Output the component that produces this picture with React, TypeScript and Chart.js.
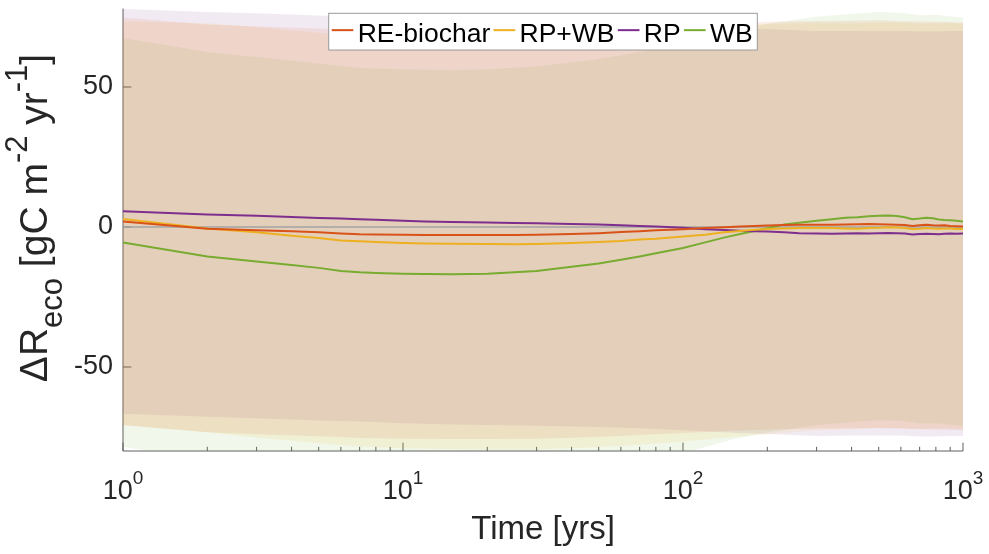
import { useEffect, useRef } from "react";
import { Chart, registerables } from "chart.js";

Chart.register(...registerables);

// ---- data ----------------------------------------------------------------
const years = [
  1, 2, 3, 4, 5, 6, 7, 8, 10, 12, 15, 20, 25, 30, 40, 50, 60, 70, 80, 100,
  120, 140, 160, 180, 200, 230, 260, 300, 340, 380, 420, 460, 500, 540, 580,
  620, 660, 700, 740, 780, 820, 860, 900, 950, 1000,
];

const reBiochar = [
  2.0, -0.6, -1.2, -1.5, -1.9, -2.3, -2.6, -2.7, -2.8, -2.9, -2.9, -2.9, -2.9,
  -2.8, -2.5, -2.2, -1.8, -1.5, -1.2, -0.8, -0.4, -0.1, 0.2, 0.4, 0.5, 0.7,
  0.8, 0.8, 0.8, 0.9, 1.0, 1.1, 1.0, 0.9, 0.8, 0.7, 0.4, 0.6, 0.8, 0.6, 0.5,
  0.6, 0.4, 0.3, 0.2,
];

const rpWb = [
  2.9, -0.5, -1.9, -3.1, -3.9, -4.8, -5.1, -5.4, -5.7, -5.9, -6.0, -6.1, -6.2,
  -6.1, -5.7, -5.4, -5.0, -4.5, -4.2, -3.4, -2.8, -1.9, -1.4, -1.0, -0.7,
  -0.5, -0.4, -0.4, -0.4, -0.5, -0.6, -0.4, -0.3, -0.1, -0.2, -0.4, -0.7,
  -0.6, -0.4, -0.5, -0.6, -0.5, -0.5, -0.7, -0.7,
];

const rp = [
  5.6, 4.5, 4.0, 3.6, 3.2, 3.0, 2.8, 2.6, 2.2, 2.0, 1.8, 1.6, 1.4, 1.3, 1.1,
  0.9, 0.6, 0.4, 0.2, -0.3, -0.8, -1.1, -1.3, -1.5, -1.6, -1.9, -2.2, -2.3,
  -2.4, -2.3, -2.2, -2.3, -2.2, -2.1, -2.2, -2.3, -2.7, -2.5, -2.4, -2.5,
  -2.6, -2.4, -2.3, -2.4, -2.3,
];

const wb = [
  -5.5, -10.5, -12.3, -13.6, -14.6, -15.7, -16.2, -16.4, -16.7, -16.8, -16.9,
  -16.7, -16.2, -15.7, -14.2, -13.0, -11.7, -10.5, -9.4, -7.5, -5.5, -3.8,
  -2.5, -1.4, -0.4, 0.9, 1.5, 2.25, 2.8, 3.3, 3.5, 3.8, 4.0, 4.1, 3.9, 3.5,
  2.8, 3.0, 3.3, 3.1, 2.7, 2.5, 2.4, 2.2, 2.0,
];

// uncertainty envelopes
const bandYears = [
  1, 2, 3, 5, 7, 10, 15, 20, 30, 50, 70, 100, 150, 200, 300, 400, 500, 600,
  700, 800, 900, 1000,
];
const reBiocharUpper = [
  74.8, 72.3, 71.6, 70.9, 70.2, 70.0, 69.9, 69.9, 70.0, 70.6, 71.3, 72.0,
  72.8, 73.3, 73.6, 73.7, 73.8, 73.5, 73.4, 73.3, 73.2, 73.0,
];
const reBiocharLower = [
  -70.8, -73.3, -74.0, -74.7, -75.4, -75.6, -75.7, -75.7, -75.6, -75.0, -74.3,
  -73.6, -72.8, -72.3, -72.0, -71.9, -71.8, -72.0, -72.2, -72.3, -72.4, -72.6,
];
const rpWbUpper = [
  73.5, 72.8, 71.4, 69.4, 68.2, 67.6, 67.3, 67.2, 67.2, 67.9, 68.8, 69.9,
  71.6, 72.6, 72.9, 72.8, 73.0, 73.0, 72.7, 72.8, 72.8, 72.6,
];
const rpWbLower = [
  -70.6, -73.3, -75.2, -77.2, -78.4, -79.0, -79.3, -79.4, -79.4, -78.7, -77.8,
  -76.7, -75.0, -74.0, -72.6, -72.2, -71.9, -71.9, -72.1, -72.0, -72.0, -72.2,
];
const rpUpper = [
  77.9, 76.8, 76.3, 75.5, 75.1, 74.5, 74.1, 73.9, 73.6, 73.2, 72.7, 72.0,
  71.1, 70.7, 70.0, 70.0, 70.1, 70.1, 69.8, 69.8, 70.0, 70.0,
];
const rpLower = [
  -66.7, -67.8, -68.3, -69.1, -69.5, -70.1, -70.5, -70.7, -71.0, -71.4, -71.9,
  -72.6, -73.5, -73.9, -74.6, -74.5, -74.5, -74.5, -74.8, -74.8, -74.6, -74.6,
];
const wbUpper = [
  67.5, 62.5, 60.7, 58.4, 56.8, 56.3, 56.1, 56.3, 57.3, 60.0, 62.5, 65.6,
  70.1, 72.6, 75.1, 76.2, 76.8, 76.5, 75.6, 75.8, 75.2, 74.8,
];
const wbLower = [
  -78.5, -83.5, -85.3, -87.6, -89.2, -89.7, -89.9, -89.7, -88.7, -86.0, -83.5,
  -80.8, -75.9, -73.4, -70.8, -69.6, -69.0, -69.2, -70.2, -70.1, -70.6, -71.0,
];

const seriesNames = ["RE-biochar", "RP+WB", "RP", "WB"];
const seriesColors = ["#D95319", "#EDB120", "#7E2F8E", "#77AC30"];
const bandColors = [
  "rgba(217,83,25,0.1)",
  "rgba(237,177,32,0.1)",
  "rgba(126,47,142,0.1)",
  "rgba(119,172,48,0.1)",
];

const xDecades = [0, 1, 2, 3];
const yTickValues = [-50, 0, 50];
const yMin = -80;
const yMax = 78;
const xLabel = "Time [yrs]";

// ---- drawing helpers -----------------------------------------------------
const FONT = '"Liberation Sans", Arial, Helvetica, sans-serif';

type Run = { text: string; size: number; shift: number };

function drawRuns(
  ctx: CanvasRenderingContext2D,
  runs: Run[],
  cx: number,
  cy: number,
  angle: number
) {
  ctx.save();
  ctx.translate(cx, cy);
  ctx.rotate(angle);
  ctx.textBaseline = "alphabetic";
  ctx.textAlign = "left";
  const widths = runs.map((r) => {
    ctx.font = `${r.size}px ${FONT}`;
    return ctx.measureText(r.text).width;
  });
  const total = widths.reduce((a, b) => a + b, 0);
  let x = -total / 2;
  runs.forEach((r, i) => {
    ctx.font = `${r.size}px ${FONT}`;
    ctx.fillText(r.text, x, -r.shift);
    x += widths[i];
  });
  ctx.restore();
}

const axesPlugin = {
  id: "matlabAxes",
  beforeDatasetsDraw(chart: any) {
    const { ctx, chartArea, scales } = chart;
    const xs = scales.x;
    const ys = scales.y;
    ctx.save();
    ctx.strokeStyle = "#5e5e5e";
    ctx.lineWidth = 1;
    // axis lines (left and bottom only)
    ctx.beginPath();
    ctx.moveTo(chartArea.left, chartArea.top);
    ctx.lineTo(chartArea.left, chartArea.bottom);
    ctx.lineTo(chartArea.right, chartArea.bottom);
    ctx.stroke();
    // x ticks, major and minor, pointing inwards
    ctx.beginPath();
    xDecades.forEach((d) => {
      const px = xs.getPixelForValue(Math.pow(10, d));
      ctx.moveTo(px, chartArea.bottom);
      ctx.lineTo(px, chartArea.bottom - 8.4);
      if (d < xDecades[xDecades.length - 1]) {
        for (let m = 2; m <= 9; m++) {
          const mx = xs.getPixelForValue(m * Math.pow(10, d));
          ctx.moveTo(mx, chartArea.bottom);
          ctx.lineTo(mx, chartArea.bottom - 4.2);
        }
      }
    });
    // y ticks
    yTickValues.forEach((v) => {
      const py = ys.getPixelForValue(v);
      ctx.moveTo(chartArea.left, py);
      ctx.lineTo(chartArea.left + 8.4, py);
    });
    ctx.stroke();
    ctx.restore();
  },
  afterDraw(chart: any) {
    const { ctx, chartArea, scales } = chart;
    const xs = scales.x;
    const ys = scales.y;
    ctx.save();
    ctx.fillStyle = "#262626";

    // y tick labels
    ctx.font = `27px ${FONT}`;
    ctx.textAlign = "right";
    ctx.textBaseline = "middle";
    yTickValues.forEach((v) => {
      ctx.fillText(String(v), chartArea.left - 10, ys.getPixelForValue(v));
    });

    // x tick labels as powers of ten
    xDecades.forEach((d) => {
      const px = xs.getPixelForValue(Math.pow(10, d));
      drawRuns(
        ctx,
        [
          { text: "10", size: 27, shift: 0 },
          { text: String(d), size: 19, shift: 15 },
        ],
        px,
        499,
        0
      );
    });

    // axis titles
    ctx.font = `33px ${FONT}`;
    ctx.textAlign = "center";
    ctx.textBaseline = "alphabetic";
    ctx.fillText(xLabel, (chartArea.left + chartArea.right) / 2, 539);

    drawRuns(
      ctx,
      [
        { text: "\u0394R", size: 39, shift: 0 },
        { text: "eco", size: 31, shift: -15 },
        { text: " [gC m", size: 39, shift: 0 },
        { text: "-2", size: 31, shift: 20 },
        { text: " yr", size: 39, shift: 0 },
        { text: "-1", size: 31, shift: 20 },
        { text: "]", size: 39, shift: 0 },
      ],
      47,
      218,
      -Math.PI / 2
    );

    // legend
    const fontSize = 26.5;
    ctx.font = `${fontSize}px ${FONT}`;
    const lineLen = 21.7;
    const lineGap = 4.3;
    const itemGap = 3.3;
    const padL = 3;
    const padR = 4.7;
    const textW = seriesNames.map((n) => ctx.measureText(n).width);
    const inner =
      textW.reduce((a, b) => a + b, 0) +
      seriesNames.length * (lineLen + lineGap) +
      (seriesNames.length - 1) * itemGap;
    const boxW = inner + padL + padR;
    const boxX = (chartArea.left + chartArea.right) / 2 - boxW / 2;
    const boxY = 13.3;
    const boxH = 36.7;
    ctx.fillStyle = "#ffffff";
    ctx.fillRect(boxX, boxY, boxW, boxH);
    ctx.strokeStyle = "#9a9a9a";
    ctx.lineWidth = 1;
    ctx.strokeRect(boxX, boxY, boxW, boxH);
    const midY = boxY + boxH / 2;
    let x = boxX + padL;
    ctx.textAlign = "left";
    ctx.textBaseline = "alphabetic";
    seriesNames.forEach((n, i) => {
      ctx.strokeStyle = seriesColors[i];
      ctx.lineWidth = 2;
      ctx.beginPath();
      ctx.moveTo(x, midY - 1.5);
      ctx.lineTo(x + lineLen, midY - 1.5);
      ctx.stroke();
      x += lineLen + lineGap;
      ctx.fillStyle = "#000000";
      ctx.fillText(n, x, boxY + 28.4);
      x += textW[i] + itemGap;
    });
    ctx.restore();
  },
};

export default function App() {
  const canvasRef = useRef<HTMLCanvasElement | null>(null);

  useEffect(() => {
    const canvas = canvasRef.current;
    if (!canvas) return;

    const lineValues = [reBiochar, rpWb, rp, wb];
    const uppers = [reBiocharUpper, rpWbUpper, rpUpper, wbUpper];
    const lowers = [reBiocharLower, rpWbLower, rpLower, wbLower];

    const datasets: any[] = [];
    // Chart.js paints the first dataset last, so the mean lines go first
    seriesNames.forEach((name, i) => {
      datasets.push({
        label: name,
        data: years.map((t, k) => ({ x: t, y: lineValues[i][k] })),
        borderColor: seriesColors[i],
        borderWidth: 2,
        pointRadius: 0,
        fill: false,
        tension: 0,
      });
    });
    datasets.push({
      label: "zero",
      data: [
        { x: years[0], y: 0 },
        { x: years[years.length - 1], y: 0 },
      ],
      borderColor: "#a3a3a3",
      borderWidth: 1.5,
      pointRadius: 0,
      fill: false,
    });
    seriesNames.forEach((name, i) => {
      datasets.push({
        label: name + " upper",
        data: bandYears.map((t, k) => ({ x: t, y: uppers[i][k] })),
        borderWidth: 0,
        borderColor: "rgba(0,0,0,0)",
        backgroundColor: bandColors[i],
        pointRadius: 0,
        fill: "+1",
        tension: 0,
      });
      datasets.push({
        label: name + " lower",
        data: bandYears.map((t, k) => ({ x: t, y: lowers[i][k] })),
        borderWidth: 0,
        borderColor: "rgba(0,0,0,0)",
        pointRadius: 0,
        fill: false,
        tension: 0,
      });
    });

    const chart = new Chart(canvas, {
      type: "line",
      data: { datasets },
      options: {
        responsive: false,
        animation: false,
        devicePixelRatio: 1,
        layout: { padding: { left: 123, right: 26, top: 8.6, bottom: 103 } },
        plugins: {
          legend: { display: false },
          tooltip: { enabled: false },
        },
        scales: {
          x: { type: "logarithmic", min: 1, max: 1000, display: false },
          y: { type: "linear", min: yMin, max: yMax, display: false },
        },
      },
      plugins: [axesPlugin],
    } as any);

    return () => chart.destroy();
  }, []);

  return (
    <div style={{ position: "absolute", left: 0, top: 0, width: 989, height: 554 }}>
      <canvas ref={canvasRef} width={989} height={554} />
    </div>
  );
}
